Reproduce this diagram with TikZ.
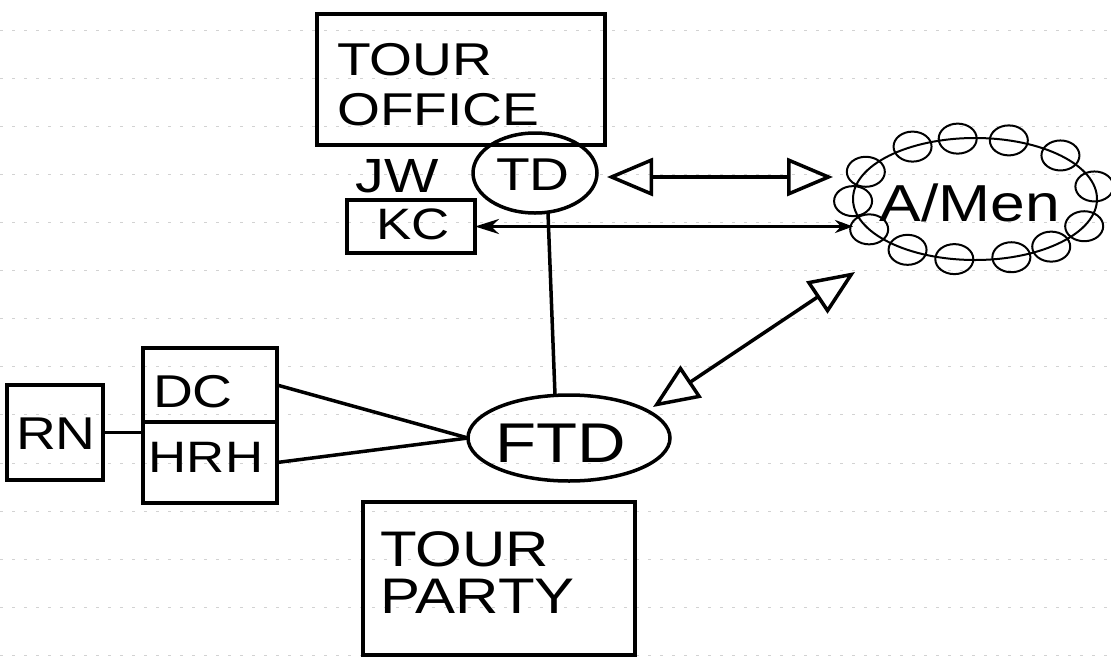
\documentclass[tikz,border=0pt]{standalone}
\usepackage{fontspec}
\setmainfont{Liberation Sans}[FakeStretch=1.2]
\usetikzlibrary{arrows.meta,shapes.geometric,calc}

\begin{document}
\begin{tikzpicture}
[x=1pt,y=-1pt,
  boxdecorate/.style={shape=rectangle,draw,line width=3.5pt,inner sep=0pt,outer sep=0pt},%
  ovaldecorate/.style={shape=ellipse,draw,line width=3.5pt,inner sep=0pt,outer sep=0pt},%
  beaddecorate/.style={line width=2pt},%
  textdecorate/.style={inner sep=0pt},%
  linedecorate/.style={-,line width=3.5pt},%
  dblarrow/.style={{Triangle[open,length=46pt,width=38pt]}-{Triangle[open,length=46pt,width=38pt]},line width=3.5pt},%
  thinarrow/.style={{Stealth[length=24pt,width=15pt]}-{Stealth[length=18pt,width=13pt]},line width=3pt},%
  ruledecorate/.style={gray!35,line width=0.8pt,dash pattern=on 3pt off 9pt}]
\useasboundingbox (0,0) rectangle (1111,667);
%% ruled paper
\foreach \k in {0,...,13} {
  \draw[ruledecorate] (0,{30+48.1*\k}) -- (1111,{30+48.1*\k});
}
%% boxes
\foreach \nodename/\x/\y/\w/\h in {office/461/79.5/288/131, party/499/578.5/272/153,
  kc/411/226.5/128/53, dc/210/385/134/74, hrh/210/462.5/134/81, rn/55/432.5/96/95} {
  \node (\nodename) at (\x,\y) [boxdecorate,minimum width=\w,minimum height=\h] {};
}
%% ovals
\node (td) at (535,173) [ovaldecorate,minimum width=124,minimum height=80] {};
\node (ftd) at (569,438) [ovaldecorate,minimum width=202,minimum height=86] {};
\node (amen) at (975,199) [ovaldecorate,line width=2pt,minimum width=244,minimum height=122] {};
%% beads round A/Men
\foreach \a in {166,140,106,60,27,6,346,328,302,251,217,196,181} {
  \draw[beaddecorate] (amen.\a) ellipse [x radius=19pt,y radius=15pt];
}
%% texts
\foreach \nodename/\x/\y/\fs/\txt in {jwtext/397/176/48/JW, tdtext/533/175/46/TD,
  kctext/413/224/44/KC, dctext/193/392/46/DC, hrhtext/206/457/44/HRH,
  rntext/56/434/46/RN, ftdtext/561/443/56/FTD} {
  \node (\nodename) at (\x,\y) [textdecorate,font=\fontsize{\fs}{\fs}\selectfont] {\txt};
}
\node (amentext) at (970,203) [textdecorate,font=\fontsize{52}{52}\selectfont] {A/Men};
\node (officetext) at (337,85) [textdecorate,anchor=west,align=left,font=\fontsize{46}{50}\selectfont] {TOUR\\OFFICE};
\node (partytext) at (380,573) [textdecorate,anchor=west,align=left,font=\fontsize{50}{47}\selectfont] {TOUR\\PARTY};
%% connectors
\path
\foreach \startnode/\endnode in {dc.east/ftd.west, hrh.east/ftd.west} {
  (\startnode) edge[linedecorate] (\endnode)
};
\draw[linedecorate] (rn.east) -- (rn.east -| hrh.west);
\draw[linedecorate] ([xshift=13pt]td.south) -- ([xshift=-14pt]ftd.north);
\draw[dblarrow] ($(td.east)+(10,4)$) -- ($(td.east -| amen.west)+(-20,4)$);
\draw[thinarrow] (kc.east) -- (kc.east -| amen.west);
\draw[dblarrow] ($(amen.center)+(-120,73)$) -- ($(ftd.center)+(84,-31)$);
\end{tikzpicture}
\end{document}
